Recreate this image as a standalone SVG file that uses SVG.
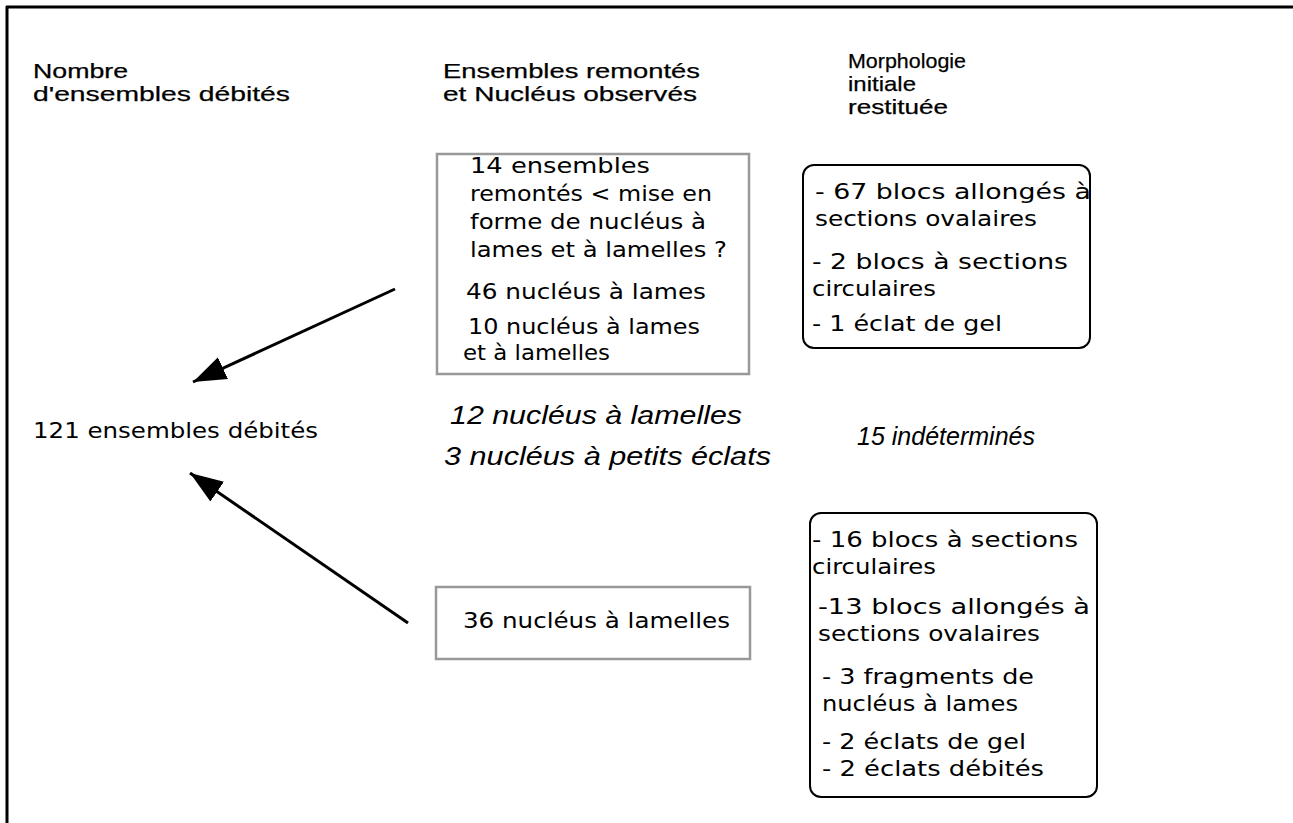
<svg xmlns="http://www.w3.org/2000/svg" width="1293" height="823" viewBox="0 0 1293 823">
<style>
.hd{font-family:"Liberation Sans",Arial,sans-serif;font-size:21px;fill:#000;stroke:#000;stroke-width:0.25}
.tx{font-family:"DejaVu Sans","Liberation Sans",sans-serif;font-size:22px;fill:#000}
.it{font-family:"Liberation Sans",Arial,sans-serif;font-size:25px;font-style:italic;fill:#000}
.gbox{fill:none;stroke:#999;stroke-width:2.5}
.rbox{fill:none;stroke:#000;stroke-width:2}
.conn{stroke:#000;stroke-width:3;fill:none}
</style>
<defs>
<marker id="ah" markerUnits="userSpaceOnUse" markerWidth="36" markerHeight="28" refX="33" refY="14" orient="auto">
<path d="M0,2 L33,14 L0,26 Z" fill="#000"/>
</marker>
</defs>
<rect x="0" y="0" width="1293" height="823" fill="#fff"/>
<g id="frame">
<line x1="6" y1="7" x2="1293" y2="7" stroke="#000" stroke-width="3"/>
<line x1="7" y1="6" x2="7" y2="823" stroke="#000" stroke-width="3"/>
</g>
<g id="headers">
<text class="hd" x="33" y="78" textLength="95" lengthAdjust="spacingAndGlyphs">Nombre</text>
<text class="hd" x="33" y="101" textLength="257" lengthAdjust="spacingAndGlyphs">d'ensembles débités</text>
<text class="hd" x="443" y="78" textLength="257" lengthAdjust="spacingAndGlyphs">Ensembles remontés</text>
<text class="hd" x="443" y="101" textLength="254" lengthAdjust="spacingAndGlyphs">et Nucléus observés</text>
<text class="hd" x="848" y="68" textLength="118" lengthAdjust="spacingAndGlyphs">Morphologie</text>
<text class="hd" x="848" y="91" textLength="68" lengthAdjust="spacingAndGlyphs">initiale</text>
<text class="hd" x="848" y="114" textLength="100" lengthAdjust="spacingAndGlyphs">restituée</text>
</g>
<g id="total">
<text class="tx" x="33" y="438" textLength="285" lengthAdjust="spacingAndGlyphs">121 ensembles débités</text>
</g>
<g id="box-remontes">
<rect class="gbox" x="437" y="154" width="312" height="220"/>
<text class="tx" x="470" y="173" textLength="180" lengthAdjust="spacingAndGlyphs">14 ensembles</text>
<text class="tx" x="470" y="201" textLength="242" lengthAdjust="spacingAndGlyphs">remontés &lt; mise en</text>
<text class="tx" x="470" y="229" textLength="236" lengthAdjust="spacingAndGlyphs">forme de nucléus à</text>
<text class="tx" x="470" y="257" textLength="257" lengthAdjust="spacingAndGlyphs">lames et à lamelles ?</text>
<text class="tx" x="466" y="299" textLength="240" lengthAdjust="spacingAndGlyphs">46 nucléus à lames</text>
<text class="tx" x="468" y="334" textLength="232" lengthAdjust="spacingAndGlyphs">10 nucléus à lames</text>
<text class="tx" x="463" y="360" textLength="147" lengthAdjust="spacingAndGlyphs">et à lamelles</text>
</g>
<g id="italics">
<text class="it" x="450" y="424" textLength="292" lengthAdjust="spacingAndGlyphs">12  nucléus à lamelles</text>
<text class="it" x="444" y="465" textLength="327" lengthAdjust="spacingAndGlyphs">3 nucléus à petits éclats</text>
<text class="it" x="857" y="445" textLength="178" lengthAdjust="spacingAndGlyphs">15 indéterminés</text>
</g>
<g id="box-morpho-1">
<rect class="rbox" x="803" y="165" width="287" height="183" rx="11"/>
<text class="tx" x="815" y="199" textLength="276" lengthAdjust="spacingAndGlyphs">- 67  blocs  allongés à</text>
<text class="tx" x="815" y="226" textLength="222" lengthAdjust="spacingAndGlyphs">sections ovalaires</text>
<text class="tx" x="812" y="269" textLength="256" lengthAdjust="spacingAndGlyphs">- 2  blocs à sections</text>
<text class="tx" x="812" y="296" textLength="124" lengthAdjust="spacingAndGlyphs">circulaires</text>
<text class="tx" x="812" y="331" textLength="190" lengthAdjust="spacingAndGlyphs">- 1 éclat de gel</text>
</g>
<g id="box-lamelles">
<rect class="gbox" x="436" y="587" width="314" height="72"/>
<text class="tx" x="463" y="628" textLength="267" lengthAdjust="spacingAndGlyphs">36 nucléus à lamelles</text>
</g>
<g id="box-morpho-2">
<rect class="rbox" x="810" y="513" width="287" height="284" rx="11"/>
<text class="tx" x="812" y="547" textLength="266" lengthAdjust="spacingAndGlyphs">- 16 blocs à sections</text>
<text class="tx" x="812" y="574" textLength="124" lengthAdjust="spacingAndGlyphs">circulaires</text>
<text class="tx" x="818" y="614" textLength="272" lengthAdjust="spacingAndGlyphs">-13  blocs  allongés à</text>
<text class="tx" x="818" y="641" textLength="222" lengthAdjust="spacingAndGlyphs">sections ovalaires</text>
<text class="tx" x="822" y="684" textLength="212" lengthAdjust="spacingAndGlyphs">- 3 fragments de</text>
<text class="tx" x="822" y="711" textLength="196" lengthAdjust="spacingAndGlyphs">nucléus à lames</text>
<text class="tx" x="822" y="749" textLength="204" lengthAdjust="spacingAndGlyphs">- 2 éclats de gel</text>
<text class="tx" x="822" y="776" textLength="222" lengthAdjust="spacingAndGlyphs">- 2 éclats débités</text>
</g>
<g id="connectors">
<line class="conn" x1="395" y1="289" x2="193" y2="382" marker-end="url(#ah)"/>
<line class="conn" x1="408" y1="623" x2="190" y2="473" marker-end="url(#ah)"/>
</g>
</svg>
